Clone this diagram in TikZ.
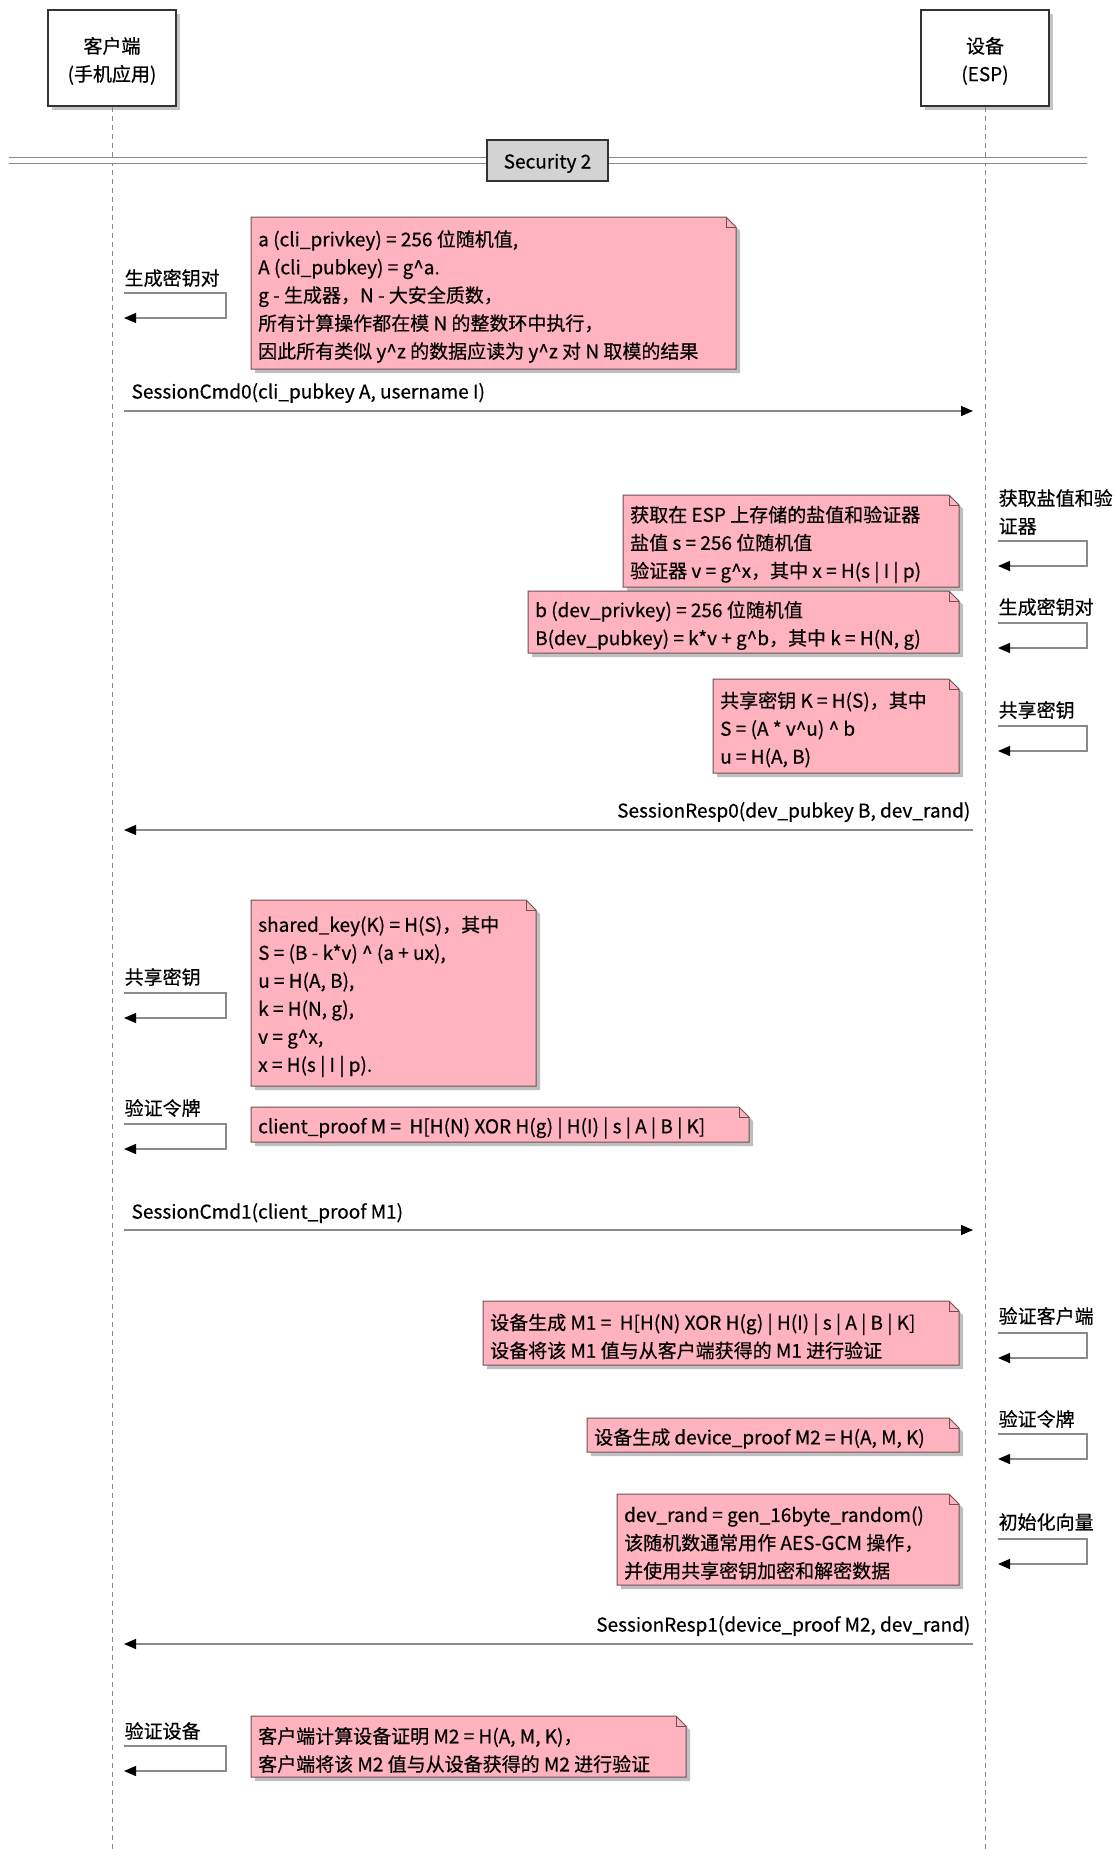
\documentclass[tikz,border=0pt]{standalone}
\usepackage{fontspec}
\setmainfont{Noto Sans CJK SC}[FakeBold=0.5]
\usepackage{tikz}
\usetikzlibrary{arrows.meta, shadows}

\definecolor{notepink}{HTML}{FFB3BF}
\definecolor{noteline}{HTML}{6E5055}
\definecolor{linegray}{HTML}{8A8A8A}
\definecolor{groupgray}{HTML}{D3D3D3}

\tikzset{
	every node/.style={font=\fontsize{19}{28}\selectfont},
	actor/.style={draw=black!80, fill=white, line width=1.2pt, minimum width=128pt, minimum height=96pt, align=center, drop shadow={shadow xshift=4pt, shadow yshift=-4pt, opacity=.45}},
	lifeline/.style={linegray, dash pattern=on 5pt off 4pt, line width=0.9pt},
	msg/.style={linegray, line width=1.3pt, -{Triangle[length=12pt, width=10pt, color=black]}},
	msglabel/.style={inner sep=0pt, text=black},
	notebg/.style={fill=notepink, draw=noteline, line width=1pt, drop shadow={shadow xshift=4pt, shadow yshift=-4pt, opacity=.5}},
	notebd/.style={draw=noteline, line width=1pt},
	notetext/.style={anchor=west, align=left, inner sep=0pt, xshift=7pt, yshift=-3.5pt}
}

% name, left, top, right, bottom, text
\newcommand{\drawnote}[6]{%
	\draw[notebg] (#2,#3) -- ({#4-10},#3) -- (#4,{#3+10}) -- (#4,#5) -- (#2,#5) -- cycle;
	\draw[notebd] ({#4-10},#3) -- ({#4-10},{#3+10}) -- (#4,{#3+10});
	\node[notetext] (#1) at (#2,{(#3+#5)/2}) {#6};
}

\begin{document}
\begin{tikzpicture}[x=1pt, y=-1pt]
		\path[fill=white, use as bounding box] (0,0) rectangle (1115,1849);
		
		%participants
		\node[actor] (cli) at (112,58) {\rule{0pt}{22pt}客户端\\(手机应用)};
		\node[actor] (dev) at (985,58) {\rule{0pt}{22pt}设备\\(ESP)};
		\coordinate (cli end) at (112,1849);
		\coordinate (dev end) at (985,1849);
		\draw[lifeline] (cli.south) -- (cli end);
		\draw[lifeline] (dev.south) -- (dev end);
		
		%group
		\coordinate (sec left) at (9,160);
		\coordinate (sec right) at (1087,160);
		\draw[linegray, line width=1pt, double=white, double distance=5pt] (sec left) -- (sec right);
		\node[draw=black!80, fill=groupgray, line width=1.2pt, minimum width=121pt, minimum height=41pt, text height=20pt, text depth=4pt] (sec) at (547.5,160.5) {Security 2};
		
		%client key pair
		\coordinate (gen c) at (124,293);
		\draw[msg] (gen c) node[msglabel, anchor=west, yshift=15pt] (gen c label) {生成密钥对} -- ++(102,0) -- ++(0,25) -- ++(-102,0);
		\drawnote{keynote}{251}{217}{736}{369}{a (cli\_privkey) = 256 位随机值,\\A (cli\_pubkey) = g\textasciicircum a.\\g - 生成器，N - 大安全质数，\\所有计算操作都在模 N 的整数环中执行，\\因此所有类似 y\textasciicircum z 的数据应读为 y\textasciicircum z 对 N 取模的结果}
		
		\coordinate (cmd0 c) at (124,411);
		\coordinate (cmd0 d) at (973,411);
		\draw[msg] (cmd0 c) -- (cmd0 d) node[msglabel, pos=0, anchor=west, xshift=7pt, yshift=18pt] (cmd0) {SessionCmd0(cli\_pubkey A, username I)};
		
		%device side
		\coordinate (salt d) at (998,541);
		\draw[msg] (salt d) node[msglabel, anchor=west, align=left, yshift=29pt] (salt d label) {获取盐值和验\\证器} -- ++(89,0) -- ++(0,25) -- ++(-89,0);
		\drawnote{saltnote}{623}{495}{959}{587}{获取在 ESP 上存储的盐值和验证器\\盐值 s = 256 位随机值\\验证器 v = g\textasciicircum x，其中 x = H(s | I | p)}
		
		\coordinate (gen d) at (998,623);
		\draw[msg] (gen d) node[msglabel, anchor=west, yshift=16pt] (gen d label) {生成密钥对} -- ++(89,0) -- ++(0,25) -- ++(-89,0);
		\drawnote{devkeynote}{528}{591}{959}{653}{b (dev\_privkey) = 256 位随机值\\B(dev\_pubkey) = k*v + g\textasciicircum b，其中 k = H(N, g)}
		
		\coordinate (shk d) at (998,726);
		\draw[msg] (shk d) node[msglabel, anchor=west, yshift=16pt] (shk d label) {共享密钥} -- ++(89,0) -- ++(0,25) -- ++(-89,0);
		\drawnote{devsharednote}{713}{679}{959}{773}{共享密钥 K = H(S)，其中\\S = (A * v\textasciicircum u) \textasciicircum{} b\\u = H(A, B)}
		
		\coordinate (resp0 c) at (124,830);
		\coordinate (resp0 d) at (973,830);
		\draw[msg] (resp0 d) -- (resp0 c) node[msglabel, pos=0, anchor=east, xshift=-2pt, yshift=18pt] (resp0) {SessionResp0(dev\_pubkey B, dev\_rand)};
		
		%client proof
		\coordinate (shk c) at (124,993);
		\draw[msg] (shk c) node[msglabel, anchor=west, yshift=16pt] (shk c label) {共享密钥} -- ++(102,0) -- ++(0,25) -- ++(-102,0);
		\drawnote{clisharednote}{251}{900}{536}{1086}{shared\_key(K) = H(S)，其中\\S = (B - k*v) \textasciicircum{} (a + ux),\\u = H(A, B),\\k = H(N, g),\\v = g\textasciicircum x,\\x = H(s | I | p).}
		
		\coordinate (tok c) at (124,1124);
		\draw[msg] (tok c) node[msglabel, anchor=west, yshift=16pt] (tok c label) {验证令牌} -- ++(102,0) -- ++(0,25) -- ++(-102,0);
		\drawnote{cliproofnote}{251}{1107}{749}{1142}{client\_proof M = \ H[H(N) XOR H(g) | H(I) | s | A | B | K]}
		
		\coordinate (cmd1 c) at (124,1230);
		\coordinate (cmd1 d) at (973,1230);
		\draw[msg] (cmd1 c) -- (cmd1 d) node[msglabel, pos=0, anchor=west, xshift=7pt, yshift=17pt] (cmd1) {SessionCmd1(client\_proof M1)};
		
		%device proof
		\coordinate (vcli d) at (998,1333);
		\draw[msg] (vcli d) node[msglabel, anchor=west, yshift=17pt] (vcli d label) {验证客户端} -- ++(89,0) -- ++(0,25) -- ++(-89,0);
		\drawnote{devchecknote}{483}{1301}{959}{1365}{设备生成 M1 = \ H[H(N) XOR H(g) | H(I) | s | A | B | K]\\设备将该 M1 值与从客户端获得的 M1 进行验证}
		
		\coordinate (tok d) at (998,1434);
		\draw[msg] (tok d) node[msglabel, anchor=west, yshift=15pt] (tok d label) {验证令牌} -- ++(89,0) -- ++(0,25) -- ++(-89,0);
		\drawnote{devproofnote}{587}{1418}{959}{1452}{设备生成 device\_proof M2 = H(A, M, K)}
		
		\coordinate (iv d) at (998,1539);
		\draw[msg] (iv d) node[msglabel, anchor=west, yshift=17pt] (iv d label) {初始化向量} -- ++(89,0) -- ++(0,25) -- ++(-89,0);
		\drawnote{devrandnote}{617}{1494}{959}{1585}{dev\_rand = gen\_16byte\_random()\\该随机数通常用作 AES-GCM 操作，\\并使用共享密钥加密和解密数据}
		
		\coordinate (resp1 c) at (124,1644);
		\coordinate (resp1 d) at (973,1644);
		\draw[msg] (resp1 d) -- (resp1 c) node[msglabel, pos=0, anchor=east, xshift=-2pt, yshift=18pt] (resp1) {SessionResp1(device\_proof M2, dev\_rand)};
		
		%client check
		\coordinate (vdev c) at (124,1746);
		\draw[msg] (vdev c) node[msglabel, anchor=west, yshift=15pt] (vdev c label) {验证设备} -- ++(102,0) -- ++(0,25) -- ++(-102,0);
		\drawnote{clichecknote}{251}{1716}{686}{1777}{客户端计算设备证明 M2 = H(A, M, K)，\\客户端将该 M2 值与从设备获得的 M2 进行验证}
	\end{tikzpicture}
\end{document}
